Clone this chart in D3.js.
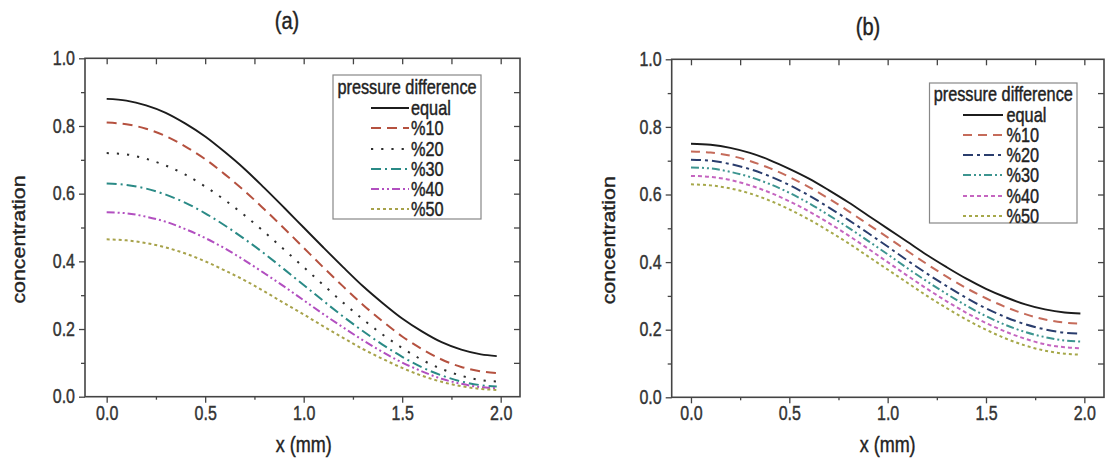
<!DOCTYPE html>
<html>
<head>
<meta charset="utf-8">
<script src="https://cdn.jsdelivr.net/npm/d3@7"></script>
<style>
  html, body { margin: 0; padding: 0; background: #fff; }
  svg { display: block; font-family: "Liberation Sans", Arial, sans-serif; }
  svg text { stroke-width: 0.35px; paint-order: stroke; }
</style>
</head>
<body>
<svg id="chart" width="1105" height="464"></svg>
<script>
// ---------- data ----------
const xs = [0, 0.1, 0.2, 0.3, 0.4, 0.5, 0.6, 0.7, 0.8, 0.9, 1.0, 1.1, 1.2, 1.3, 1.4, 1.5, 1.6, 1.7, 1.8, 1.9, 1.98];
const seriesNames = ["equal", "%10", "%20", "%30", "%40", "%50"];
const legendTitle = "pressure difference";
const panelTitles = ["(a)", "(b)"];
const xTickValues = [0, 0.5, 1.0, 1.5, 2.0];
const yTickValues = [0, 0.2, 0.4, 0.6, 0.8, 1.0];
const xLabel = "x (mm)";
const yLabel = "concentration";

// panel (a)
const aEqual = [0.880, 0.875, 0.861, 0.839, 0.807, 0.769, 0.723, 0.673, 0.617, 0.559, 0.500, 0.441, 0.383, 0.327, 0.277, 0.231, 0.193, 0.161, 0.139, 0.125, 0.120];
const a10    = [0.810, 0.805, 0.792, 0.770, 0.739, 0.702, 0.657, 0.608, 0.554, 0.498, 0.440, 0.382, 0.326, 0.272, 0.223, 0.178, 0.141, 0.110, 0.088, 0.075, 0.070];
const a20    = [0.720, 0.716, 0.703, 0.683, 0.656, 0.621, 0.581, 0.536, 0.487, 0.435, 0.383, 0.330, 0.278, 0.229, 0.184, 0.144, 0.109, 0.082, 0.062, 0.049, 0.045];
const a30    = [0.630, 0.626, 0.615, 0.597, 0.573, 0.542, 0.506, 0.466, 0.423, 0.377, 0.330, 0.283, 0.237, 0.194, 0.154, 0.118, 0.087, 0.063, 0.045, 0.034, 0.030];
const a40    = [0.545, 0.542, 0.532, 0.517, 0.495, 0.469, 0.438, 0.403, 0.365, 0.326, 0.285, 0.244, 0.205, 0.167, 0.132, 0.101, 0.075, 0.053, 0.038, 0.028, 0.025];
const a50    = [0.465, 0.462, 0.454, 0.441, 0.423, 0.400, 0.373, 0.344, 0.311, 0.277, 0.243, 0.208, 0.174, 0.141, 0.112, 0.085, 0.062, 0.044, 0.031, 0.023, 0.020];

// panel (b)
const bEqual = [0.750, 0.747, 0.738, 0.723, 0.702, 0.676, 0.647, 0.613, 0.577, 0.538, 0.499, 0.460, 0.421, 0.385, 0.351, 0.321, 0.296, 0.275, 0.260, 0.251, 0.248];
const b10    = [0.727, 0.724, 0.715, 0.699, 0.678, 0.652, 0.622, 0.588, 0.551, 0.512, 0.473, 0.433, 0.394, 0.357, 0.323, 0.293, 0.267, 0.246, 0.230, 0.221, 0.218];
const b20    = [0.703, 0.700, 0.690, 0.675, 0.654, 0.628, 0.597, 0.562, 0.525, 0.486, 0.446, 0.405, 0.366, 0.329, 0.294, 0.263, 0.237, 0.216, 0.201, 0.191, 0.188];
const b30    = [0.680, 0.677, 0.667, 0.652, 0.631, 0.605, 0.574, 0.539, 0.502, 0.463, 0.423, 0.382, 0.343, 0.306, 0.271, 0.240, 0.214, 0.193, 0.178, 0.168, 0.165];
const b40    = [0.655, 0.652, 0.643, 0.627, 0.606, 0.580, 0.550, 0.516, 0.479, 0.440, 0.400, 0.360, 0.321, 0.284, 0.250, 0.220, 0.194, 0.173, 0.157, 0.148, 0.145];
const b50    = [0.630, 0.627, 0.618, 0.603, 0.582, 0.556, 0.526, 0.492, 0.456, 0.417, 0.378, 0.339, 0.300, 0.264, 0.230, 0.200, 0.174, 0.153, 0.138, 0.129, 0.126];

// ---------- styles ----------
const stylesA = [
  { color: "#1c1c1c", dash: null },
  { color: "#b5513f", dash: "10,6" },
  { color: "#2e2e2e", dash: "2.2,8" },
  { color: "#2a8a86", dash: "10,4,2,4" },
  { color: "#b24fc0", dash: "8,3,2,3,2,3" },
  { color: "#a7a24a", dash: "3,3" }
];
const stylesB = [
  { color: "#1c1c1c", dash: null },
  { color: "#c56b5a", dash: "9,6" },
  { color: "#2a3d6d", dash: "10,4,3,4" },
  { color: "#3d9590", dash: "8,3,2,3,2,3" },
  { color: "#c565c0", dash: "4,3" },
  { color: "#a6a84a", dash: "3,3" }
];

const panels = [
  {
    title: panelTitles[0], series: [aEqual, a10, a20, a30, a40, a50], styles: stylesA,
    left: 85, right: 520, top: 58.3, bottom: 396.7, xDomain: [-0.11, 2.098],
    titleX: 287, titleY: 29, yLabelX: 25,
    legend: { x0: 333, x1: 481, y0: 75, y1: 219, titleY: 88, rows: [108, 128, 149, 169, 189, 209], lx0: 371, lx1: 409, tx: 411 }
  },
  {
    title: panelTitles[1], series: [bEqual, b10, b20, b30, b40, b50], styles: stylesB,
    left: 671.7, right: 1104, top: 59.3, bottom: 397.3, xDomain: [-0.098, 2.1],
    titleX: 868, titleY: 35, yLabelX: 615,
    legend: { x0: 929.5, x1: 1077, y0: 83, y1: 223, titleY: 95, rows: [115, 135, 155, 175, 196, 216], lx0: 963, lx1: 1003, tx: 1006.5 }
  }
];

const STRETCH = 1.22;
const svg = d3.select("#chart");

panels.forEach(p => {
  const x = d3.scaleLinear().domain(p.xDomain).range([p.left, p.right]);
  const y = d3.scaleLinear().domain([0, 1.0]).range([p.bottom, p.top]);
  const g = svg.append("g");

  const xMinor = [0.25, 0.75, 1.25, 1.75];
  const yMinor = [0.1, 0.3, 0.5, 0.7, 0.9];
  const yAll = [0.1, 0.2, 0.3, 0.4, 0.5, 0.6, 0.7, 0.8, 0.9];
  const xAll = [0.25, 0.5, 0.75, 1.0, 1.25, 1.5, 1.75];

  // bottom axis (outward)
  const bx = g.append("g").attr("transform", `translate(0,${p.bottom})`)
    .call(d3.axisBottom(x).tickValues(xTickValues).tickSize(6).tickPadding(2).tickFormat(d3.format(".1f")));
  g.append("g").attr("transform", `translate(0,${p.bottom})`)
    .call(d3.axisBottom(x).tickValues(xMinor).tickSize(3).tickFormat(""));
  // left axis (outward)
  const ly = g.append("g").attr("transform", `translate(${p.left},0)`)
    .call(d3.axisLeft(y).tickValues(yTickValues).tickSize(6).tickPadding(4).tickFormat(d3.format(".1f")));
  g.append("g").attr("transform", `translate(${p.left},0)`)
    .call(d3.axisLeft(y).tickValues(yMinor).tickSize(4).tickFormat(""));
  // top axis (inward)
  g.append("g").attr("transform", `translate(0,${p.top})`)
    .call(d3.axisBottom(x).tickValues([0].concat(xAll, [2.0])).tickSize(6).tickFormat(""));
  // right axis (inward)
  g.append("g").attr("transform", `translate(${p.right},0)`)
    .call(d3.axisLeft(y).tickValues(yAll).tickSize(6).tickFormat(""));

  g.selectAll(".domain").remove();
  g.selectAll(".tick line").attr("stroke", "#444").attr("stroke-width", 1.3);
  g.selectAll(".tick text").attr("fill", "#333").attr("stroke", "#333").attr("font-size", 16)
    .attr("font-family", "'Liberation Sans', Arial, sans-serif");
  bx.selectAll(".tick text").attr("transform", `scale(1,${STRETCH})`).attr("y", 7.5);
  ly.selectAll(".tick text").attr("transform", `scale(1,${STRETCH})`);

  // frame
  g.append("rect").attr("x", p.left).attr("y", p.top)
    .attr("width", p.right - p.left).attr("height", p.bottom - p.top)
    .attr("fill", "none").attr("stroke", "#444").attr("stroke-width", 1.6);

  // curves
  const line = d3.line().x(d => x(d[0])).y(d => y(d[1])).curve(d3.curveMonotoneX);
  p.series.forEach((vals, i) => {
    const st = p.styles[i];
    g.append("path").datum(xs.map((xv, j) => [xv, vals[j]]))
      .attr("d", line).attr("fill", "none")
      .attr("stroke", st.color).attr("stroke-width", i === 0 ? 1.9 : 2.0)
      .attr("stroke-dasharray", st.dash);
  });

  // panel title
  g.append("text").attr("transform", `translate(${p.titleX},${p.titleY}) scale(1,${STRETCH})`)
    .attr("text-anchor", "middle").attr("font-size", 20).attr("fill", "#222").attr("stroke", "#222").text(p.title);

  // axis labels
  g.append("text").attr("transform", `translate(${x(1.0)},452) scale(1,${STRETCH})`)
    .attr("text-anchor", "middle").attr("font-size", 18).attr("fill", "#222").attr("stroke", "#222").text(xLabel);
  g.append("text").attr("transform", `translate(${p.yLabelX},${(p.top + p.bottom) / 2 + 12}) rotate(-90) scale(${STRETCH},1)`)
    .attr("text-anchor", "middle").attr("font-size", 17.5).attr("fill", "#222").attr("stroke", "#222").text(yLabel);

  // legend
  const L = p.legend;
  const lg = g.append("g");
  lg.append("rect").attr("x", L.x0).attr("y", L.y0).attr("width", L.x1 - L.x0).attr("height", L.y1 - L.y0)
    .attr("fill", "#fff").attr("stroke", "#888").attr("stroke-width", 1.2);
  lg.append("text").attr("transform", `translate(${(L.x0 + L.x1) / 2},${L.titleY + 5.5}) scale(1,${STRETCH})`)
    .attr("text-anchor", "middle").attr("font-size", 16.3).attr("fill", "#222").attr("stroke", "#222").text(legendTitle);
  seriesNames.forEach((name, i) => {
    const st = p.styles[i];
    const ry = L.rows[i];
    lg.append("line").attr("x1", L.lx0).attr("x2", L.lx1).attr("y1", ry).attr("y2", ry)
      .attr("stroke", st.color).attr("stroke-width", 2.0).attr("stroke-dasharray", st.dash);
    lg.append("text").attr("transform", `translate(${L.tx},${ry + 6.5}) scale(1,${STRETCH})`)
      .attr("font-size", 16.3).attr("fill", "#222").attr("stroke", "#222").text(name);
  });
});
</script>
</body>
</html>
